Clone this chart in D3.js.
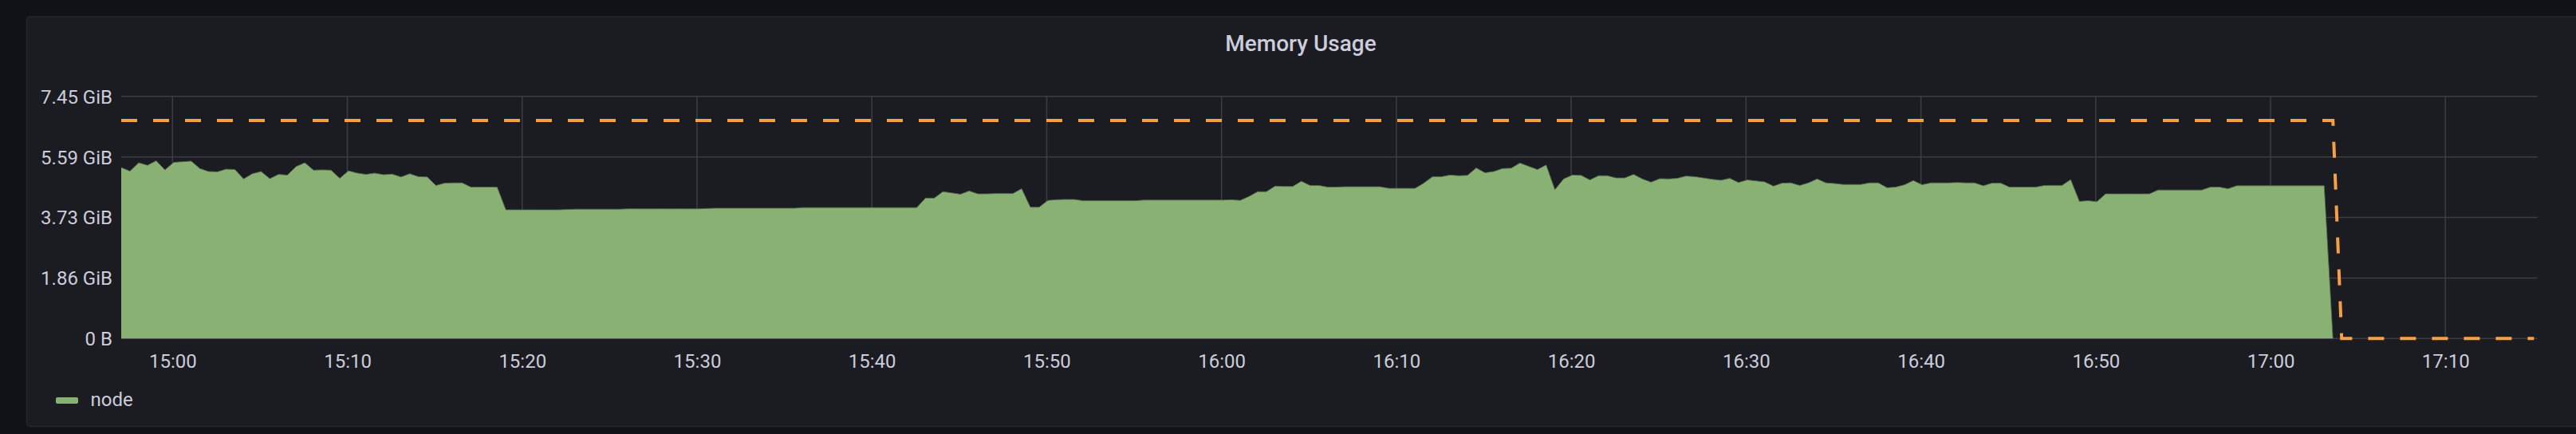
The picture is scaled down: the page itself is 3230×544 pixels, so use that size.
<!DOCTYPE html>
<html>
<head>
<meta charset="utf-8">
<script src="https://cdn.jsdelivr.net/npm/d3@7"></script>
<style>
  html, body { margin: 0; padding: 0; background: #111217; overflow: hidden; }
  svg { display: block; }
  text { font-family: Roboto, "Noto Sans", sans-serif; fill: #ccccdc; }
</style>
</head>
<body>
<svg id="chart" width="3230" height="544"></svg>
<script>
// ---------- data ----------
const title = "Memory Usage";
const seriesName = "node";
const startTime = "2024-01-01T14:57:04";   // first sample
const stepSeconds = 30;                    // sample interval
const domainStart = "2024-01-01T14:57:04";
const domainEnd = "2024-01-01T17:15:16";

// memory used by "node", GiB, one sample every 30 s
const nodeGiB = [
  5.26, 5.15, 5.41, 5.33, 5.47, 5.19, 5.42, 5.44, 5.46, 5.23,
  5.14, 5.13, 5.21, 5.20, 4.91, 5.07, 5.14, 4.92, 5.05, 5.03,
  5.29, 5.41, 5.18, 5.19, 5.18, 4.93, 5.16, 5.09, 5.05, 5.09,
  5.04, 5.06, 4.97, 5.07, 4.98, 4.97, 4.71, 4.78, 4.79, 4.79,
  4.66, 4.66, 4.66, 4.66, 3.96, 3.96, 3.96, 3.96, 3.96, 3.96,
  3.96, 3.97, 3.98, 3.98, 3.98, 3.98, 3.98, 3.98, 3.99, 3.99,
  3.99, 3.99, 3.99, 3.99, 3.99, 3.99, 3.99, 4.00, 4.01, 4.01,
  4.01, 4.01, 4.01, 4.01, 4.01, 4.01, 4.01, 4.01, 4.03, 4.03,
  4.03, 4.03, 4.03, 4.03, 4.03, 4.03, 4.03, 4.03, 4.03, 4.03,
  4.03, 4.03, 4.32, 4.32, 4.52, 4.48, 4.44, 4.54, 4.45, 4.45,
  4.46, 4.46, 4.46, 4.61, 4.04, 4.04, 4.25, 4.27, 4.28, 4.28,
  4.24, 4.24, 4.24, 4.24, 4.24, 4.24, 4.24, 4.26, 4.26, 4.26,
  4.26, 4.26, 4.26, 4.26, 4.26, 4.26, 4.26, 4.27, 4.25, 4.37,
  4.52, 4.52, 4.69, 4.68, 4.68, 4.84, 4.71, 4.71, 4.66, 4.66,
  4.67, 4.67, 4.67, 4.67, 4.67, 4.62, 4.62, 4.62, 4.62, 4.78,
  4.98, 4.98, 5.03, 5.01, 5.02, 5.25, 5.10, 5.14, 5.23, 5.24,
  5.40, 5.30, 5.20, 5.34, 4.58, 4.91, 5.03, 5.02, 4.88, 5.01,
  5.01, 4.94, 4.94, 5.05, 4.91, 4.81, 4.92, 4.91, 4.93, 5.00,
  4.98, 4.94, 4.90, 4.87, 4.93, 4.80, 4.88, 4.85, 4.82, 4.69,
  4.78, 4.79, 4.71, 4.79, 4.91, 4.79, 4.77, 4.74, 4.74, 4.74,
  4.79, 4.79, 4.64, 4.66, 4.73, 4.86, 4.73, 4.79, 4.79, 4.79,
  4.80, 4.79, 4.79, 4.70, 4.78, 4.78, 4.66, 4.66, 4.66, 4.66,
  4.71, 4.71, 4.71, 4.89, 4.22, 4.24, 4.21, 4.45, 4.45, 4.45,
  4.45, 4.45, 4.45, 4.57, 4.57, 4.57, 4.57, 4.57, 4.57, 4.66,
  4.66, 4.61, 4.70, 4.70, 4.70, 4.70, 4.70, 4.70, 4.70, 4.70,
  4.70, 4.70, 4.70, 0
];

// memory limit (dashed), GiB, same sampling
const limitHigh = 6.71;   // 7.2 GB
const limitHighCount = 254;
const limitZeroCount = 23;

const yTickBytes = [0, 2e9, 4e9, 6e9, 8e9];
const yTickLabels = ["0 B", "1.86 GiB", "3.73 GiB", "5.59 GiB", "7.45 GiB"];
const xTickTimes = ["15:00","15:10","15:20","15:30","15:40","15:50","16:00","16:10","16:20","16:30","16:40","16:50","17:00","17:10"];

// ---------- layout ----------
const GiB = Math.pow(2, 30);
const plot = { left: 152, right: 3181.7, top: 120.8, bottom: 424.3 };

const svg = d3.select("#chart");
svg.append("rect").attr("width", 3230).attr("height", 544).attr("fill", "#111217");
svg.append("rect")
  .attr("x", 33.5).attr("y", 21).attr("width", 3200).attr("height", 513.5)
  .attr("rx", 4).attr("fill", "#1b1c21").attr("stroke", "#27282d").attr("stroke-width", 1.5);

svg.append("text").attr("x", 1631).attr("y", 63.5).attr("text-anchor", "middle")
  .style("font-size", "28px").style("font-weight", 500).text(title);

const parse = d3.timeParse("%Y-%m-%dT%H:%M:%S");
const t0 = parse(startTime);
const x = d3.scaleTime().domain([parse(domainStart), parse(domainEnd)]).range([plot.left, plot.right]);
const y = d3.scaleLinear().domain([0, 8e9 / GiB]).range([plot.bottom, plot.top]);

const timeAt = i => new Date(t0.getTime() + i * stepSeconds * 1000);
const nodeData = nodeGiB.map((v, i) => ({ t: timeAt(i), v }));
const limitVals = [].concat(new Array(limitHighCount).fill(limitHigh), new Array(limitZeroCount).fill(0));
const limitData = limitVals.map((v, i) => ({ t: timeAt(i), v }));

// x tick dates
const day = "2024-01-01T";
const xTicks = xTickTimes.map(s => parse(day + s + ":00"));

// grid
const grid = svg.append("g");
grid.selectAll("line.h").data(yTickBytes).enter().append("line")
  .attr("x1", plot.left).attr("x2", plot.right)
  .attr("y1", d => y(d / GiB)).attr("y2", d => y(d / GiB))
  .attr("stroke", "#3c3d42").attr("stroke-width", 1.5);
grid.selectAll("line.v").data(xTicks).enter().append("line")
  .attr("x1", d => x(d)).attr("x2", d => x(d))
  .attr("y1", plot.top).attr("y2", plot.bottom)
  .attr("stroke", "#3c3d42").attr("stroke-width", 1.5);

// area
const area = d3.area().x(d => x(d.t)).y0(y(0)).y1(d => y(d.v));
svg.append("path").datum(nodeData).attr("d", area).attr("fill", "#89b174");
const line = d3.line().x(d => x(d.t)).y(d => y(d.v));
svg.append("path").datum(nodeData).attr("d", line).attr("fill", "none")
  .attr("stroke", "#55664d").attr("stroke-width", 1).attr("stroke-opacity", 0.8);

// limit dashed line
svg.append("path").datum(limitData).attr("d", line).attr("fill", "none")
  .attr("stroke", "#f5a045").attr("stroke-width", 4).attr("stroke-dasharray", "20,20");

// y axis labels
const yAxis = d3.axisLeft(y).tickValues(yTickBytes.map(b => b / GiB))
  .tickFormat((d, i) => yTickLabels[i]).tickSize(0).tickPadding(0);
const gy = svg.append("g").attr("transform", "translate(141,0)").call(yAxis);
gy.select(".domain").remove();
gy.selectAll("text").attr("x", 0).attr("dy", "0.35em")
  .style("font-size", "24px").style("fill", "#ccccdc").style("font-family", "Roboto");

// x axis labels
const xAxis = d3.axisBottom(x).tickValues(xTicks).tickFormat(d3.timeFormat("%H:%M")).tickSize(0).tickPadding(0);
const gx = svg.append("g").attr("transform", `translate(0,${plot.bottom})`).call(xAxis);
gx.select(".domain").remove();
gx.selectAll("text").attr("y", 36.5).attr("dy", 0)
  .style("font-size", "24px").style("fill", "#ccccdc").style("font-family", "Roboto");

// legend
svg.append("rect").attr("x", 70).attr("y", 498).attr("width", 28).attr("height", 8).attr("rx", 2).attr("fill", "#89b174");
svg.append("text").attr("x", 113.5).attr("y", 509).style("font-size", "24px").text(seriesName);
</script>
</body>
</html>
